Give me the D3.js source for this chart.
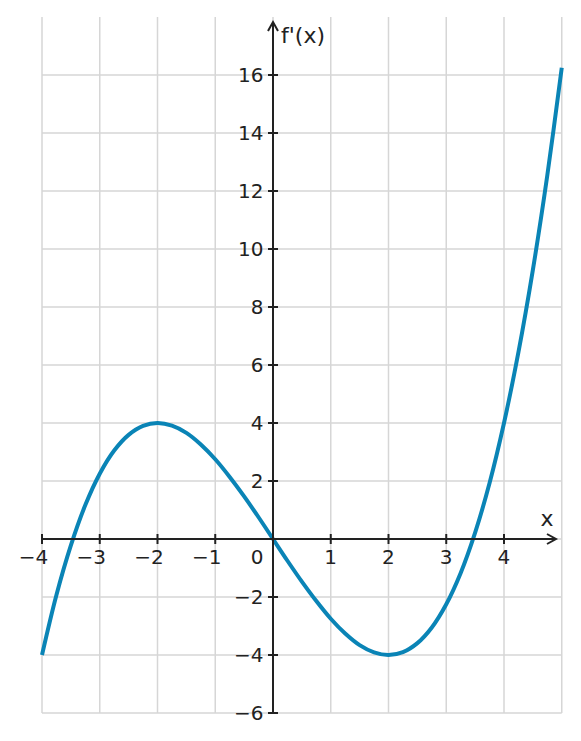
<!DOCTYPE html>
<html>
<head>
<meta charset="utf-8">
<script src="https://cdn.jsdelivr.net/npm/d3@7"></script>
<style>
  body { margin: 0; background: #fff; }
  text { font-family: "DejaVu Sans", sans-serif; fill: #222; }
</style>
</head>
<body>
<script>
// values, every quarter unit
let xValues = [-4, -3.75, -3.5, -3.25, -3, -2.75, -2.5, -2.25, -2, -1.75, -1.5, -1.25, -1,
  -0.75, -0.5, -0.25, 0, 0.25, 0.5, 0.75, 1, 1.25, 1.5, 1.75, 2, 2.25, 2.5, 2.75, 3,
  3.25, 3.5, 3.75, 4, 4.25, 4.5, 4.75, 5];
let yValues = [-4, -1.93, -0.22, 1.17, 2.25, 3.05, 3.59, 3.90, 4, 3.91, 3.66, 3.26, 2.75,
  2.14, 1.47, 0.75, 0, -0.75, -1.47, -2.14, -2.75, -3.26, -3.66, -3.91, -4, -3.90, -3.59,
  -3.05, -2.25, -1.17, 0.22, 1.93, 4, 6.44, 9.28, 12.54, 16.25];
let xTicks = [-4, -3, -2, -1, 1, 2, 3, 4];
let yTicks = [-6, -4, -2, 2, 4, 6, 8, 10, 12, 14, 16];
let xGrid = [-4, -3, -2, -1, 0, 1, 2, 3, 4, 5];
let yGrid = [-6, -4, -2, 0, 2, 4, 6, 8, 10, 12, 14, 16];

let width = 581, height = 741;
let x, y, svg;

setupScales();
appendSvg("body");
appendGrid();
appendCurve();
appendAxes();

function setupScales() {
  x = d3.scaleLinear().domain([-4, 5]).range([42, 561.75]);
  y = d3.scaleLinear().domain([-6, 18]).range([713, 17]);
}

function appendSvg(el) {
  svg = d3.select(el).append("svg")
    .attr("width", width)
    .attr("height", height);
}

function appendGrid() {
  let g = svg.append("g").attr("stroke", "#d6d6d6").attr("stroke-width", 1.5);
  g.selectAll(".vg").data(xGrid).enter().append("line")
    .attr("x1", d => x(d)).attr("x2", d => x(d))
    .attr("y1", y(18)).attr("y2", y(-6));
  g.selectAll(".hg").data(yGrid).enter().append("line")
    .attr("x1", x(-4)).attr("x2", x(5))
    .attr("y1", d => y(d)).attr("y2", d => y(d));
}

function appendCurve() {
  let pts = xValues.map((v, i) => [v, yValues[i]]);
  let line = d3.line()
    .x(d => x(d[0]))
    .y(d => y(d[1]))
    .curve(d3.curveCatmullRom);
  svg.append("path")
    .datum(pts)
    .attr("d", line)
    .attr("fill", "none")
    .attr("stroke", "#0a84b6")
    .attr("stroke-width", 4)
    .attr("stroke-linecap", "butt");
}

function appendAxes() {
  let ax = svg.append("g").attr("stroke", "#222").attr("stroke-width", 2).attr("fill", "none");
  let x0 = x(0), y0 = y(0);
  let xEnd = 556, yTop = 22;

  // x axis + arrow
  ax.append("line").attr("x1", x(-4)).attr("x2", xEnd).attr("y1", y0).attr("y2", y0);
  ax.append("path").attr("d", `M${xEnd - 9},${y0 - 5} L${xEnd},${y0} L${xEnd - 9},${y0 + 5}`);
  // y axis + arrow
  ax.append("line").attr("x1", x0).attr("x2", x0).attr("y1", y(-6)).attr("y2", yTop);
  ax.append("path").attr("d", `M${x0 - 5},${yTop + 9} L${x0},${yTop} L${x0 + 5},${yTop + 9}`);

  ax.selectAll(".xt").data(xTicks).enter().append("line")
    .attr("x1", d => x(d)).attr("x2", d => x(d))
    .attr("y1", y0 - 5).attr("y2", y0 + 5);
  ax.selectAll(".yt").data(yTicks).enter().append("line")
    .attr("x1", x0 - 5).attr("x2", x0 + 5)
    .attr("y1", d => y(d)).attr("y2", d => y(d));

  let fmt = d => (d < 0 ? "\u2212" : "") + Math.abs(d);

  svg.selectAll(".xl").data(xTicks).enter().append("text")
    .attr("x", d => x(d) + 6.3)
    .attr("y", y0 + 25)
    .attr("text-anchor", "end")
    .attr("font-size", 20)
    .text(fmt);

  svg.selectAll(".yl").data(yTicks).enter().append("text")
    .attr("x", x0 - 9.5)
    .attr("y", d => y(d) + 7)
    .attr("text-anchor", "end")
    .attr("font-size", 20)
    .text(fmt);

  svg.append("text")
    .attr("x", x0 - 9.6).attr("y", y0 + 25)
    .attr("text-anchor", "end").attr("font-size", 20)
    .text("0");

  svg.append("text")
    .attr("x", 547).attr("y", y0 - 13)
    .attr("text-anchor", "middle").attr("font-size", 22)
    .text("x");

  svg.append("text")
    .attr("x", 281).attr("y", 43)
    .attr("font-size", 22)
    .text("f'(x)");
}
</script>
</body>
</html>
